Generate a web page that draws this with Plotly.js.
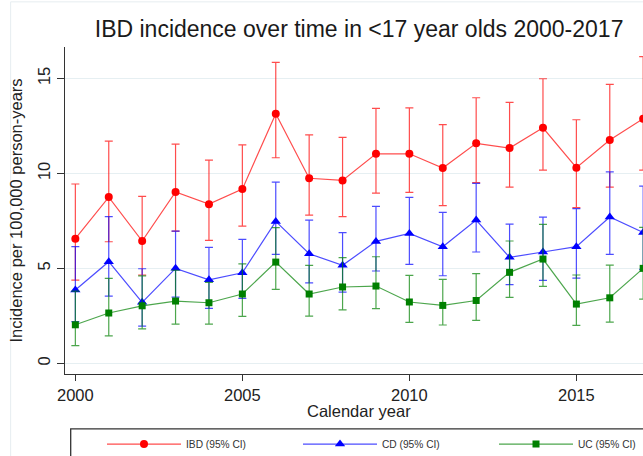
<!DOCTYPE html>
<html>
<head>
<meta charset="utf-8">
<script src="https://cdn.plot.ly/plotly-3.0.1.min.js"></script>
<style>
  html, body { margin: 0; padding: 0; overflow: hidden; background: #fff; }
  #chart { width: 730px; height: 456px; }
</style>
</head>
<body>
<div id="chart"></div>
<script>
// ---- data ----
const years = [2000, 2001, 2002, 2003, 2004, 2005, 2006, 2007, 2008, 2009, 2010, 2011, 2012, 2013, 2014, 2015, 2016, 2017];

const ibd      = [6.56, 8.75, 6.44, 9.02, 8.38, 9.17, 13.14, 9.74, 9.63, 11.03, 11.03, 10.28, 11.58, 11.33, 12.40, 10.30, 11.75, 12.88];
const ibdUpper = [9.44, 11.70, 8.79, 11.54, 10.70, 11.50, 15.84, 12.03, 11.89, 13.42, 13.45, 12.56, 13.98, 13.74, 14.98, 12.82, 14.68, 16.14];
const ibdLower = [4.38, 6.40, 4.65, 6.96, 6.47, 7.22, 10.82, 7.80, 7.72, 8.96, 9.00, 8.30, 9.51, 9.28, 10.17, 8.20, 9.28, 10.17];

const cd      = [3.86, 5.35, 3.21, 5.00, 4.40, 4.77, 7.47, 5.77, 5.16, 6.42, 6.84, 6.14, 7.54, 5.58, 5.86, 6.14, 7.70, 6.89];
const cdUpper = [6.14, 7.72, 4.98, 6.96, 6.10, 6.53, 9.54, 7.54, 6.88, 8.26, 8.74, 7.95, 9.47, 7.33, 7.70, 8.14, 10.08, 9.33];
const cdLower = [2.20, 3.54, 1.96, 3.49, 2.89, 3.42, 5.74, 4.24, 3.75, 4.86, 5.21, 4.61, 5.86, 4.14, 4.37, 4.49, 5.74, 4.95];

const uc      = [2.03, 2.65, 3.03, 3.28, 3.19, 3.65, 5.33, 3.65, 4.02, 4.07, 3.23, 3.05, 3.31, 4.79, 5.49, 3.12, 3.45, 5.00];
const ucUpper = [3.80, 4.47, 4.60, 4.90, 4.26, 5.24, 7.14, 5.16, 5.56, 5.61, 4.63, 4.42, 4.72, 6.44, 7.32, 4.65, 5.17, 7.16];
const ucLower = [0.93, 1.45, 1.82, 2.07, 2.07, 2.47, 3.89, 2.49, 2.82, 2.88, 2.16, 2.02, 2.26, 3.47, 4.05, 2.00, 2.17, 3.38];

const seriesNames = ['IBD (95% CI)', 'CD (95% CI)', 'UC (95% CI)'];
const xTickVals = [2000, 2005, 2010, 2015];
const yTickVals = [0, 5, 10, 15];

// ---- helpers ----
function errs(center, upper, lower) {
  return {
    plus: upper.map((u, i) => +(u - center[i]).toFixed(3)),
    minus: center.map((c, i) => +(c - lower[i]).toFixed(3))
  };
}

function makeTrace(name, y, upper, lower, color, fade, symbol, size) {
  const e = errs(y, upper, lower);
  return {
    type: 'scatter',
    mode: 'lines+markers',
    name: name,
    x: years,
    y: y,
    line: { color: fade, width: 1.2 },
    marker: { color: color, symbol: symbol, size: size },
    error_y: {
      type: 'data', symmetric: false,
      array: e.plus, arrayminus: e.minus,
      color: fade, thickness: 1.2, width: 4
    }
  };
}

const traces = [
  makeTrace(seriesNames[0], ibd, ibdUpper, ibdLower, '#ff0000', 'rgba(255,0,0,0.7)', 'circle', 8),
  makeTrace(seriesNames[1], cd, cdUpper, cdLower, '#0000ff', 'rgba(0,0,255,0.7)', 'triangle-up', 9),
  makeTrace(seriesNames[2], uc, ucUpper, ucLower, '#008000', 'rgba(0,128,0,0.7)', 'square', 7)
];

const font = 'Liberation Sans, Arial, sans-serif';

const layout = {
  width: 730,
  height: 456,
  margin: { l: 65, r: 10, t: 47, b: 82, autoexpand: false },
  paper_bgcolor: '#ffffff',
  plot_bgcolor: '#ffffff',
  font: { family: font, color: '#222' },
  title: {
    text: 'IBD incidence over time in <17 year olds 2000-2017',
    font: { family: font, size: 23, color: '#1a1a1a' },
    x: 0.449, xref: 'paper', xanchor: 'center',
    y: 0.936, yref: 'container', yanchor: 'middle'
  },
  xaxis: {
    range: [1999.69, 2019.30],
    tickvals: xTickVals,
    ticks: 'outside', ticklen: 6, tickwidth: 1.3, tickcolor: '#333',
    showline: true, linecolor: '#333', linewidth: 1.3,
    showgrid: false, zeroline: false,
    tickfont: { family: font, size: 16.5, color: '#222' }
  },
  yaxis: {
    range: [-0.56, 16.65],
    tickvals: yTickVals,
    tickangle: -90,
    ticks: 'outside', ticklen: 7, tickwidth: 1.3, tickcolor: '#333',
    showline: true, linecolor: '#333', linewidth: 1.3,
    showgrid: true, gridcolor: '#e6eff2', gridwidth: 1.2,
    zeroline: false,
    tickfont: { family: font, size: 16.5, color: '#222' },
    title: { text: 'Incidence per 100,000 person-years', font: { family: font, size: 16.5, color: '#222' }, standoff: 8 }
  },
  annotations: [
    { text: 'Calendar year', xref: 'paper', yref: 'paper', x: 0.4496, y: -0.114,
      xanchor: 'center', yanchor: 'middle', showarrow: false,
      font: { family: font, size: 16.5, color: '#222' } }
  ],
  showlegend: true,
  legend: {
    orientation: 'h',
    x: 0.0565, xref: 'paper', xanchor: 'left',
    y: -0.170, yref: 'paper', yanchor: 'top',
    itemwidth: 74,
    entrywidth: 107, entrywidthmode: 'pixels',
    font: { family: font, size: 10.2, color: '#333' },
    bgcolor: 'rgba(0,0,0,0)',
    borderwidth: 0,
    traceorder: 'normal'
  },
  shapes: [
    { type: 'rect', xref: 'paper', yref: 'paper', x0: 0.0087, x1: 1.0, y0: -0.168, y1: -0.40,
      line: { color: '#333', width: 1.3 }, fillcolor: 'rgba(0,0,0,0)', layer: 'below' },
    { type: 'rect', xref: 'paper', yref: 'paper', x0: -0.083, x1: 1.1, y0: 1.138, y1: -0.5,
      line: { color: '#e6edf0', width: 1 }, fillcolor: 'rgba(0,0,0,0)', layer: 'below' }
  ]
};

Plotly.newPlot('chart', traces, layout, { displayModeBar: false, staticPlot: true });
</script>
</body>
</html>
